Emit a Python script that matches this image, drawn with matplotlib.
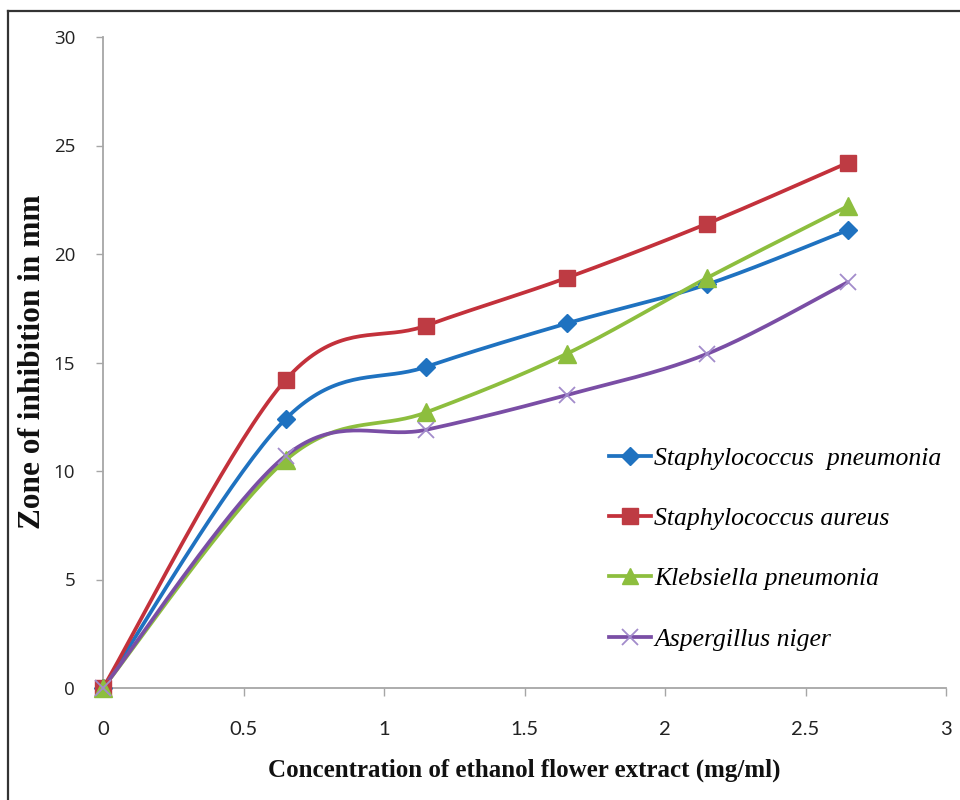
import numpy as np
import matplotlib
matplotlib.use("Agg")
import matplotlib.pyplot as plt
from matplotlib.lines import Line2D

# Concentration (mg/ml) and zone of inhibition (mm) for each organism
concentration = [0, 0.65, 1.15, 1.65, 2.15, 2.65]
staph_pneumonia = [0, 12.4, 14.8, 16.8, 18.6, 21.1]
staph_aureus = [0, 14.2, 16.7, 18.9, 21.4, 24.2]
klebsiella = [0, 10.5, 12.7, 15.4, 18.9, 22.2]
aspergillus = [0, 10.7, 11.9, 13.5, 15.4, 18.7]

series_names = ["Staphylococcus  pneumonia", "Staphylococcus aureus",
                "Klebsiella pneumonia", "Aspergillus niger"]
x_ticks = [0, 0.5, 1, 1.5, 2, 2.5, 3]
x_tick_labels = ["0", "0.5", "1", "1.5", "2", "2.5", "3"]
y_ticks = [0, 5, 10, 15, 20, 25, 30]


def smooth(x, y, n=40):
    """Bezier smoothing through every point (Catmull-Rom style control points)."""
    x = np.asarray(x, float)
    y = np.asarray(y, float)
    px = np.concatenate([[x[0]], x, [x[-1]]])
    py = np.concatenate([[y[0]], y, [y[-1]]])
    t = np.linspace(0, 1, n)[:, None]
    xs, ys = [], []
    for i in range(len(x) - 1):
        p0 = np.array([px[i + 1], py[i + 1]])
        p3 = np.array([px[i + 2], py[i + 2]])
        c1 = p0 + (np.array([px[i + 2], py[i + 2]]) - np.array([px[i], py[i]])) / 6
        c2 = p3 - (np.array([px[i + 3], py[i + 3]]) - np.array([px[i + 1], py[i + 1]])) / 6
        pts = ((1 - t) ** 3) * p0 + 3 * ((1 - t) ** 2) * t * c1 + 3 * (1 - t) * t ** 2 * c2 + t ** 3 * p3
        if i > 0:
            pts = pts[1:]
        xs.append(pts[:, 0])
        ys.append(pts[:, 1])
    return np.concatenate(xs), np.concatenate(ys)


styles = [
    dict(color="#1F72C0", marker="D", mfc="#1F72C0", mec="#1F72C0", ms=9.5, mew=1),
    dict(color="#C3313B", marker="s", mfc="#BE3B43", mec="#BE3B43", ms=12, mew=1),
    dict(color="#8DBE3E", marker="^", mfc="#8DBE3E", mec="#8DBE3E", ms=12.5, mew=1),
    dict(color="#7A4EA5", marker="x", mfc="#A28BCB", mec="#A28BCB", ms=12, mew=1.3),
]
all_series = [staph_pneumonia, staph_aureus, klebsiella, aspergillus]

fig = plt.figure(figsize=(9.6, 8.0), dpi=100)
ax = fig.add_axes([103 / 960, 1 - 688 / 800, (946 - 103) / 960, (688 - 37) / 800])

handles = []
for vals, st, name in zip(all_series, styles, series_names):
    sx, sy = smooth(concentration, vals)
    ax.plot(sx, sy, color=st["color"], lw=2.7, solid_capstyle="round", zorder=2)
    ax.plot(concentration, vals, linestyle="none", marker=st["marker"],
            markerfacecolor=st["mfc"], markeredgecolor=st["mec"],
            markersize=st["ms"], markeredgewidth=st["mew"], zorder=3, clip_on=False)
    handles.append(Line2D([], [], color=st["color"], lw=2.7, marker=st["marker"],
                          markerfacecolor=st["mfc"], markeredgecolor=st["mec"],
                          markersize=st["ms"] * 0.95, markeredgewidth=st["mew"]))

ax.set_xlim(0, 3)
ax.set_ylim(0, 30)
ax.set_xticks(x_ticks)
ax.set_xticklabels(x_tick_labels, family=["Lato", "DejaVu Sans"],
                   fontsize=14.5, color="#222222")
ax.set_yticks(y_ticks)
ax.set_yticklabels([str(v) for v in y_ticks], family=["Open Sans", "DejaVu Sans"],
                   fontsize=13.5, color="#222222")
ax.tick_params(axis="x", direction="out", length=6, width=1, color="#A6A6A6", pad=18)
ax.tick_params(axis="y", direction="out", length=5, width=1, color="#A6A6A6", pad=15)
for side in ("top", "right"):
    ax.spines[side].set_visible(False)
for side in ("left", "bottom"):
    ax.spines[side].set_color("#A6A6A6")
    ax.spines[side].set_linewidth(1.3)

fig.text(524 / 960, 1 - 770 / 800, "Concentration of ethanol flower extract (mg/ml)",
         family=["Liberation Serif", "DejaVu Serif"], fontweight="bold", fontsize=18,
         ha="center", va="center", color="#111111")
fig.text(33 / 960, 1 - 362 / 800, "Zone of inhibition in mm",
         family=["Liberation Serif", "DejaVu Serif"], fontweight="bold", fontsize=22.5,
         ha="center", va="center", rotation=90, color="#111111")

leg = ax.legend(handles, series_names, loc="upper left",
                bbox_to_anchor=(609 / 960, 1 - 447 / 800), bbox_transform=fig.transFigure,
                frameon=False, handlelength=1.63, handletextpad=0.12,
                labelspacing=1.45, borderaxespad=0, borderpad=0,
                prop=dict(family=["Liberation Serif", "DejaVu Serif"], style="italic", size=18.5))

# outer frame lines on the left and top
fig.add_artist(Line2D([8 / 960, 8 / 960], [0, 1 - 11 / 800], transform=fig.transFigure,
                      color="#333333", lw=1.6))
fig.add_artist(Line2D([8 / 960, 1], [1 - 11 / 800, 1 - 11 / 800], transform=fig.transFigure,
                      color="#333333", lw=1.6))

fig.savefig("out.png", dpi=100, facecolor="white")
